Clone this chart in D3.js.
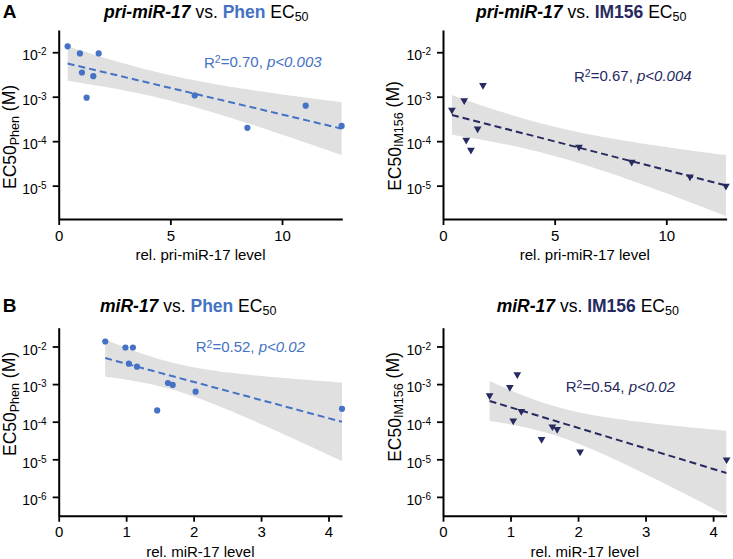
<!DOCTYPE html>
<html>
<head>
<meta charset="utf-8">
<script src="https://cdn.jsdelivr.net/npm/d3@7"></script>
<style>
  body { margin: 0; background: #fff; }
  svg { display: block; }
  text { font-family: "Liberation Sans", Arial, Helvetica, sans-serif; fill: #000; }
</style>
</head>
<body>
<svg width="733" height="559"></svg>
<script>
// one entry per cell line, same order in every array
var priLevel  = [0.40, 0.95, 1.79, 1.04, 1.55, 1.25, 6.09, 8.45, 11.06, 12.67];
var mirLevel  = [0.69, 0.99, 1.10, 1.04, 1.16, 1.69, 1.62, 1.46, 2.03, 4.20];
var phenEC50  = [0.0136, 0.0094, 0.0094, 0.0035, 0.0029, 0.00095, 0.00107, 0.00020, 0.00063, 0.00022];
var im156EC50 = [5.0e-4, 8.2e-4, 1.8e-3, 1.06e-4, 1.9e-4, 6.3e-5, 7.4e-5, 3.4e-5, 1.58e-5, 9.8e-6];

// stats printed on each panel
var r2Text = ["0.70", "0.67", "0.52", "0.54"];
var pText  = ["0.003", "0.004", "0.02", "0.02"];

// axis ticks
var priTicks = [0, 5, 10];
var mirTicks = [0, 1, 2, 3, 4];
var ecTicksA = [1e-2, 1e-3, 1e-4, 1e-5];
var ecTicksB = [1e-2, 1e-3, 1e-4, 1e-5, 1e-6];

var blue = "#4472c4", navy = "#262a5e";
var svg = d3.select("svg");

var panels = [
  {x: priLevel, y: phenEC50,  drug: "Phen",  rna: "pri-miR-17", col: blue, tri: false,
   left: 58.7, right: 342.3, top: 30, bottom: 219, xMax: 12.7, yLo: -5.75, yHi: -1.5,
   xt: priTicks, yt: ecTicksA, titleX: 104, titleY: 17.5, statX: 204, statY: 67.7, ylabY: 137},
  {x: priLevel, y: im156EC50, drug: "IM156", rna: "pri-miR-17", col: navy, tri: true,
   left: 443, right: 726.6, top: 30, bottom: 219, xMax: 12.7, yLo: -5.75, yHi: -1.5,
   xt: priTicks, yt: ecTicksA, titleX: 476, titleY: 17.5, statX: 574, statY: 81.7, ylabY: 136},
  {x: mirLevel, y: phenEC50,  drug: "Phen",  rna: "miR-17", col: blue, tri: false,
   left: 58.7, right: 342, top: 327.7, bottom: 515.7, xMax: 4.2, yLo: -6.5, yHi: -1.5,
   xt: mirTicks, yt: ecTicksB, titleX: 100, titleY: 311.5, statX: 195.7, statY: 352.3, ylabY: 404},
  {x: mirLevel, y: im156EC50, drug: "IM156", rna: "miR-17", col: navy, tri: true,
   left: 443, right: 726.6, top: 327.7, bottom: 515.7, xMax: 4.2, yLo: -6.5, yHi: -1.5,
   xt: mirTicks, yt: ecTicksB, titleX: 496.7, titleY: 311.5, statX: 565.7, statY: 392.3, ylabY: 407}
];

// least squares on log10(EC50) with 95% band of the mean
function fit(xs, ys) {
  var ly = ys.map(Math.log10), n = xs.length;
  var mx = d3.mean(xs), my = d3.mean(ly);
  var sxx = d3.sum(xs, function(x){ return (x - mx) * (x - mx); });
  var sxy = d3.sum(xs, function(x, i){ return (x - mx) * (ly[i] - my); });
  var b = sxy / sxx, a = my - b * mx;
  var sse = d3.sum(xs, function(x, i){ var r = ly[i] - a - b * x; return r * r; });
  var s = Math.sqrt(sse / (n - 2));
  var t = 2.306; // t(0.975, df = 8)
  return {
    at: function(x){ return a + b * x; },
    half: function(x){ return t * s * Math.sqrt(1 / n + (x - mx) * (x - mx) / sxx); }
  };
}

panels.forEach(function(p, k) {
  var x = d3.scaleLinear().domain([0, p.xMax]).range([p.left, p.right]);
  var y = d3.scaleLog().domain([Math.pow(10, p.yLo), Math.pow(10, p.yHi)]).range([p.bottom, p.top]);
  var g = svg.append("g");

  g.append("clipPath").attr("id", "clip" + k).append("rect")
    .attr("x", p.left).attr("y", p.top).attr("width", p.right - p.left).attr("height", p.bottom - p.top);

  var f = fit(p.x, p.y);
  var xs = d3.range(61).map(function(i){ return d3.min(p.x) + (d3.max(p.x) - d3.min(p.x)) * i / 60; });

  var plot = g.append("g").attr("clip-path", "url(#clip" + k + ")");
  plot.append("path")
    .datum(xs)
    .attr("fill", "#e0e0e0")
    .attr("d", d3.area()
      .x(function(d){ return x(d); })
      .y0(function(d){ return y(Math.pow(10, f.at(d) - f.half(d))); })
      .y1(function(d){ return y(Math.pow(10, f.at(d) + f.half(d))); }));

  plot.append("path")
    .datum(d3.extent(p.x))
    .attr("fill", "none")
    .attr("stroke", p.col)
    .attr("stroke-width", 2)
    .attr("stroke-dasharray", "7,4")
    .attr("d", d3.line()
      .x(function(d){ return x(d); })
      .y(function(d){ return y(Math.pow(10, f.at(d))); }));

  var pts = p.x.map(function(v, i){ return [v, p.y[i]]; });
  if (p.tri) {
    g.selectAll("path.pt").data(pts).enter().append("path")
      .attr("class", "pt")
      .attr("d", d3.symbol(d3.symbolTriangle, 26))
      .attr("transform", function(d){ return "translate(" + x(d[0]) + "," + y(d[1]) + ") rotate(180)"; })
      .attr("fill", p.col);
  } else {
    g.selectAll("circle").data(pts).enter().append("circle")
      .attr("cx", function(d){ return x(d[0]); })
      .attr("cy", function(d){ return y(d[1]); })
      .attr("r", 3.1)
      .attr("fill", p.col);
  }

  // axes
  var xa = g.append("g").attr("transform", "translate(0," + p.bottom + ")")
    .call(d3.axisBottom(x).tickValues(p.xt).tickSize(6).tickSizeOuter(0).tickPadding(5).tickFormat(d3.format("d")));
  xa.selectAll("text").style("font-size", "15px").style("font-family", null);

  var ya = g.append("g").attr("transform", "translate(" + p.left + ",0)")
    .call(d3.axisLeft(y).tickValues(p.yt).tickSize(6).tickSizeOuter(0).tickPadding(6));
  ya.selectAll("text").each(function(d) {
    var t = d3.select(this).text(null).attr("dy", "0.55em").style("font-size", "14px").style("font-family", null);
    t.append("tspan").text("10");
    t.append("tspan").attr("dy", "-0.5em").style("font-size", "10px").text(String(Math.round(Math.log10(d))));
  });
  [xa, ya].forEach(function(a){
    a.select(".domain").attr("stroke-width", 2);
    a.selectAll(".tick line").attr("stroke-width", 1.8);
  });

  // title
  var tt = g.append("text").attr("x", p.titleX).attr("y", p.titleY).style("font-size", "17.5px");
  tt.append("tspan").style("font-weight", "bold").style("font-style", "italic").text(p.rna);
  tt.append("tspan").text(" vs. ");
  tt.append("tspan").style("font-weight", "bold").style("fill", p.col).text(p.drug);
  tt.append("tspan").text(" EC");
  tt.append("tspan").attr("dy", "0.3em").style("font-size", "12.5px").text("50");

  // stats
  var st = g.append("text").attr("x", p.statX).attr("y", p.statY).style("font-size", "15px").style("fill", p.col);
  st.append("tspan").style("fill", p.col).text("R");
  st.append("tspan").attr("dy", "-0.45em").style("font-size", "10.5px").style("fill", p.col).text("2");
  st.append("tspan").attr("dy", "0.3em").style("fill", p.col).text("=" + r2Text[k] + ", ");
  st.append("tspan").style("font-style", "italic").style("fill", p.col).text("p<" + pText[k]);

  // axis titles
  g.append("text")
    .attr("x", (p.left + p.right) / 2).attr("y", p.bottom + 41)
    .attr("text-anchor", "middle").style("font-size", "15px")
    .text("rel. " + p.rna + " level");

  var yl = g.append("text")
    .attr("transform", "translate(" + (p.left - 42.5) + "," + p.ylabY + ") rotate(-90)")
    .attr("text-anchor", "middle").style("font-size", "17.5px");
  yl.append("tspan").text("EC50");
  yl.append("tspan").attr("dy", "0.22em").style("font-size", "12.5px").text(p.drug);
  yl.append("tspan").attr("dy", "-0.22em").text(" (M)");
});

// panel letters
svg.append("text").attr("x", 2.7).attr("y", 17.5).style("font-size", "19px").style("font-weight", "bold").text("A");
svg.append("text").attr("x", 2.7).attr("y", 312).style("font-size", "19px").style("font-weight", "bold").text("B");
</script>
</body>
</html>
